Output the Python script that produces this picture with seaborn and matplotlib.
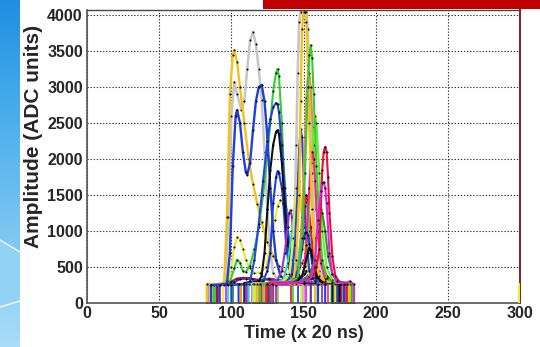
import numpy as np
import pandas as pd
import matplotlib
matplotlib.use("Agg")
import matplotlib.pyplot as plt
from matplotlib.patches import Rectangle
import seaborn as sns

# ---------------------------------------------------------------- waveforms
# time in samples (x 20 ns), amplitude in ADC units

gold_a_t = [83, 83, 90, 95, 97, 99, 101, 102, 104, 106, 109, 112, 115, 118, 121, 125, 129, 133, 138, 145, 152, 158, 158]
gold_a_amp = [0, 260, 262, 280, 1200, 2900, 3450, 3515, 3350, 3000, 2500, 2000, 1650, 1380, 1120, 850, 650, 520, 400, 320, 290, 280, 0]

gray_a_t = [85, 85, 92, 96, 98, 100, 102, 104, 107, 109, 111, 113, 115, 117, 119, 121, 123, 125, 127, 129, 133, 145, 150, 150]
gray_a_amp = [0, 255, 260, 300, 1200, 2600, 3070, 2900, 2680, 2800, 3250, 3650, 3764, 3600, 3250, 2820, 2100, 1300, 700, 420, 300, 280, 270, 0]

blue_a_t = [86, 86, 92, 97, 99, 101, 103, 104, 106, 108, 110, 111, 113, 115, 117, 119, 121, 123, 125, 127, 129, 131, 134, 138, 145, 160, 160]
blue_a_amp = [0, 250, 255, 270, 700, 1900, 2600, 2680, 2500, 2100, 1820, 1780, 1950, 2400, 2800, 3000, 3030, 2800, 2300, 1600, 1000, 600, 380, 300, 280, 270, 0]

yellow_a_t = [87, 87, 94, 98, 100, 102, 104, 106, 108, 110, 113, 116, 120, 124, 127, 130, 132, 134, 136, 138, 140, 143, 147, 152, 165, 165]
yellow_a_amp = [0, 255, 260, 300, 500, 780, 910, 880, 750, 600, 480, 420, 420, 500, 800, 1150, 1350, 1430, 1380, 1150, 850, 550, 350, 290, 270, 0]

green_a_t = [88, 88, 95, 99, 102, 104, 106, 108, 110, 113, 116, 119, 122, 125, 127, 129, 131, 132, 133, 135, 136, 138, 140, 143, 148, 160, 160]
green_a_amp = [0, 250, 255, 290, 480, 600, 560, 440, 430, 520, 750, 1050, 1500, 2050, 2500, 2950, 3200, 3250, 3150, 2500, 2000, 1300, 800, 450, 300, 270, 0]

blue_b_t = [100, 100, 108, 113, 116, 119, 122, 125, 127, 129, 131, 132, 133, 135, 137, 139, 141, 144, 148, 165, 165]
blue_b_amp = [0, 250, 260, 300, 600, 1100, 1700, 2250, 2550, 2720, 2780, 2760, 2650, 2200, 1600, 1050, 650, 400, 300, 270, 0]

black_b_t = [109, 109, 115, 119, 121, 123, 125, 127, 129, 131, 132, 133, 135, 137, 139, 141, 144, 148, 170, 170]
black_b_amp = [0, 280, 285, 300, 380, 700, 1300, 1850, 2200, 2380, 2400, 2350, 1950, 1350, 850, 520, 330, 290, 275, 0]

blue_c_t = [105, 105, 115, 122, 125, 127, 129, 131, 132, 133, 135, 136, 138, 140, 143, 150, 172, 172]
blue_c_amp = [0, 260, 265, 300, 450, 700, 1390, 1750, 1830, 1800, 1600, 1390, 800, 480, 320, 280, 270, 0]

purple_b_t = [110, 110, 125, 132, 135, 137, 139, 140, 141, 142, 143, 145, 147, 150, 175, 175]
purple_b_amp = [0, 270, 280, 320, 450, 700, 1050, 1250, 1290, 1200, 900, 550, 380, 300, 270, 0]

cyan_b_t = [112, 112, 130, 136, 139, 142, 144, 146, 148, 150, 152, 155, 160, 178, 178]
cyan_b_amp = [0, 260, 280, 320, 550, 1000, 1350, 1500, 1400, 1050, 650, 380, 290, 270, 0]

maroon_t = [90, 90, 97, 100, 104, 108, 112, 116, 120, 125, 130, 140, 150, 150]
maroon_amp = [0, 255, 260, 300, 340, 350, 345, 330, 320, 330, 310, 290, 280, 0]

violet_t = [92, 92, 98, 102, 106, 110, 114, 118, 122, 126, 132, 145, 155, 155]
violet_amp = [0, 250, 255, 290, 330, 340, 330, 310, 320, 340, 320, 290, 280, 0]

gray_c_t = [115, 115, 135, 140, 142, 144, 145, 146, 147, 148, 150, 152, 153, 154, 156, 158, 161, 165, 180, 180]
gray_c_amp = [0, 270, 280, 350, 600, 1300, 2200, 3200, 3900, 4040, 4040, 4040, 3800, 3000, 1800, 900, 450, 300, 270, 0]

yellow_c_t = [116, 116, 135, 140, 143, 145, 146, 147, 149, 151, 154, 158, 172, 172]
yellow_c_amp = [0, 260, 290, 400, 900, 1600, 1800, 1700, 1200, 700, 380, 290, 270, 0]

blue_d_t = [118, 118, 138, 142, 144, 146, 147, 148, 149, 150, 152, 154, 158, 174, 174]
blue_d_amp = [0, 265, 290, 400, 800, 1600, 2150, 2420, 2300, 1800, 900, 450, 300, 270, 0]

gold_c_t = [118, 118, 138, 143, 145, 147, 148, 149, 150, 151, 152, 153, 154, 156, 158, 161, 165, 182, 182]
gold_c_amp = [0, 270, 280, 330, 600, 1500, 2800, 3800, 4040, 4040, 3900, 3300, 2500, 1300, 650, 380, 300, 270, 0]

red_c_t = [121, 121, 143, 147, 149, 151, 152, 153, 155, 157, 160, 165, 176, 176]
red_c_amp = [0, 270, 300, 500, 900, 1350, 1500, 1450, 1050, 600, 350, 280, 270, 0]

orange_c_t = [122, 122, 142, 147, 149, 151, 152, 153, 154, 155, 157, 159, 162, 166, 178, 178]
orange_c_amp = [0, 265, 290, 500, 1200, 2300, 2850, 3150, 3190, 3000, 2200, 1300, 600, 320, 270, 0]

cyan_c_t = [125, 125, 142, 146, 148, 150, 151, 152, 154, 156, 159, 163, 177, 177]
cyan_c_amp = [0, 265, 300, 500, 900, 1350, 1450, 1400, 1000, 600, 380, 290, 270, 0]

lime_c_t = [123, 123, 145, 150, 153, 155, 157, 158, 159, 161, 163, 166, 170, 181, 181]
lime_c_amp = [0, 265, 290, 400, 900, 1700, 2450, 2600, 2500, 1800, 1000, 500, 320, 270, 0]

green_c_t = [120, 120, 140, 146, 149, 151, 153, 154, 155, 156, 157, 159, 161, 163, 166, 170, 184, 184]
green_c_amp = [0, 270, 290, 350, 900, 1800, 3000, 3450, 3580, 3400, 2900, 1900, 1100, 600, 350, 290, 270, 0]

pink_c_t = [124, 124, 145, 150, 152, 154, 155, 156, 157, 158, 160, 162, 165, 170, 179, 179]
pink_c_amp = [0, 270, 290, 400, 800, 1600, 1950, 2100, 2000, 1700, 1000, 550, 330, 280, 270, 0]

blue_e_t = [126, 126, 140, 144, 147, 149, 150, 151, 152, 153, 154, 156, 159, 163, 178, 178]
blue_e_amp = [0, 265, 300, 350, 500, 750, 900, 970, 990, 950, 820, 550, 350, 290, 270, 0]

black_c_t = [127, 127, 145, 149, 151, 153, 154, 155, 157, 159, 162, 175, 175]
black_c_amp = [0, 260, 290, 380, 520, 700, 770, 740, 550, 380, 300, 270, 0]

darkgreen_c_t = [127, 127, 148, 154, 157, 159, 161, 162, 163, 165, 167, 170, 174, 183, 183]
darkgreen_c_amp = [0, 265, 290, 350, 550, 900, 1200, 1300, 1250, 1000, 650, 400, 300, 270, 0]

red_d_t = [125, 125, 150, 156, 159, 161, 163, 164, 165, 166, 167, 168, 170, 172, 175, 180, 180]
red_d_amp = [0, 270, 290, 350, 500, 750, 1850, 2100, 2170, 2100, 1750, 1250, 650, 380, 290, 270, 0]

magenta_d_t = [128, 128, 150, 155, 158, 160, 162, 163, 164, 165, 166, 168, 170, 173, 178, 182, 185, 185]
magenta_d_amp = [0, 260, 290, 330, 600, 1150, 1550, 1670, 1680, 1600, 1390, 700, 400, 300, 270, 300, 260, 0]

rose_s_t = [119, 119, 140, 146, 149, 150, 151, 153, 156, 160, 175, 175]
rose_s_amp = [0, 260, 290, 400, 560, 600, 580, 480, 350, 290, 270, 0]

navy_s_t = [121, 121, 142, 148, 151, 152, 153, 155, 158, 162, 173, 173]
navy_s_amp = [0, 255, 280, 340, 420, 450, 440, 380, 310, 280, 265, 0]

teal_s_t = [124, 124, 146, 152, 155, 157, 158, 159, 161, 164, 168, 177, 177]
teal_s_amp = [0, 260, 285, 350, 450, 530, 550, 530, 450, 340, 290, 270, 0]

brown_s_t = [129, 129, 148, 154, 157, 159, 160, 161, 163, 166, 170, 180, 180]
brown_s_amp = [0, 265, 290, 380, 550, 670, 700, 680, 550, 380, 300, 270, 0]

lilac_s_t = [131, 131, 146, 151, 154, 155, 156, 158, 162, 176, 176]
lilac_s_amp = [0, 255, 285, 340, 400, 420, 410, 360, 290, 265, 0]

# flat (baseline only) records: first and last sample, pedestal level
flat_start = [84, 89, 91, 94, 96, 98, 101, 107, 111, 114, 117, 119, 129, 132]
flat_end = [141, 143, 146, 148, 152, 155, 158, 160, 163, 167, 169, 171, 174, 177]
flat_level = [262, 255, 258, 250, 265, 252, 260, 257, 263, 255, 268, 260, 258, 262]
flat_color = ["#ee2222", "#33dd33", "#2244ee", "#eeee22", "#ee22ee", "#22dddd",
              "#229944", "#ff8800", "#8833ff", "#ff3388", "#66ff66", "#3399ff",
              "#cc2222", "#bbbb22"]

# lone sample at the end of the record window
tail_t = [299.3, 299.3]
tail_amp = [0, 270]

# ---------------------------------------------------------------- styling
sns.set_style("white")
plt.rcParams["font.family"] = ["Liberation Sans", "DejaVu Sans"]
plt.rcParams["font.weight"] = "bold"

fig = plt.figure(figsize=(5.40, 3.47), dpi=100)
fig.patch.set_facecolor("white")

# slide backdrop on the left edge
strip = fig.add_axes([0, 0, 20 / 540, 1])
grad = np.linspace(0, 1, 256).reshape(-1, 1)
cmap = matplotlib.colors.LinearSegmentedColormap.from_list(
    "slide", ["#1f8fe0", "#4aaeec", "#7cc6f2", "#a9dcf8"])
strip.imshow(grad, aspect="auto", cmap=cmap, extent=[0, 1, 0, 1], origin="upper")
strip.fill([0, 1, 1, 0], [1 - 240 / 347, 1 - 252 / 347, 1 - 301 / 347, 1 - 307 / 347],
           color="#92d2f5", lw=0)
strip.plot([0, 1], [1 - 240 / 347, 1 - 252 / 347], color="white", lw=0.9)
strip.plot([0, 1], [1 - 307 / 347, 1 - 301 / 347], color="white", lw=0.9)
strip.set_xlim(0, 1)
strip.set_ylim(0, 1)
strip.axis("off")

# red banner at the top
fig.patches.append(Rectangle((263 / 540, 1 - 9 / 347), 1 - 263 / 540, 9 / 347,
                             transform=fig.transFigure, facecolor="#c00000",
                             edgecolor="none", zorder=0))

ax = fig.add_axes([87 / 540, 1 - 303 / 347, (520 - 87) / 540, (303 - 10) / 347])
ax.set_facecolor("white")


def draw(t, amp, color, lw=1.5, dots=True, z=2):
    frame = pd.DataFrame({"t": t, "amp": amp})
    kw = dict(marker="o", markersize=1.5, markerfacecolor="black",
              markeredgewidth=0) if dots else {}
    sns.lineplot(data=frame, x="t", y="amp", ax=ax, color=color, lw=lw,
                 sort=False, estimator=None, legend=False, zorder=z, **kw)


for s, e, lvl, c in zip(flat_start, flat_end, flat_level, flat_color):
    draw([s, s, e, e], [0, lvl, lvl, 0], c, lw=1.3, dots=False)

draw(maroon_t, maroon_amp, "#a01050")
draw(violet_t, violet_amp, "#6a2aa0")
draw(gray_a_t, gray_a_amp, "#c6c6c6", lw=1.8)
draw(gold_a_t, gold_a_amp, "#f2c21a", lw=1.7)
draw(yellow_a_t, yellow_a_amp, "#eaea2a")
draw(green_a_t, green_a_amp, "#33cc33")
draw(blue_a_t, blue_a_amp, "#1f3fd8", lw=1.7)
draw(blue_b_t, blue_b_amp, "#2244e0")
draw(blue_c_t, blue_c_amp, "#1f3fd8")
draw(black_b_t, black_b_amp, "#111111")
draw(purple_b_t, purple_b_amp, "#9933cc")
draw(cyan_b_t, cyan_b_amp, "#22d8d8")
draw(rose_s_t, rose_s_amp, "#ff66aa")
draw(navy_s_t, navy_s_amp, "#3322aa")
draw(teal_s_t, teal_s_amp, "#33aaaa")
draw(brown_s_t, brown_s_amp, "#995522")
draw(lilac_s_t, lilac_s_amp, "#7755ff")
draw(gray_c_t, gray_c_amp, "#c6c6c6", lw=1.9)
draw(yellow_c_t, yellow_c_amp, "#eaea2a")
draw(blue_d_t, blue_d_amp, "#2244e0")
draw(cyan_c_t, cyan_c_amp, "#22d8d8")
draw(red_c_t, red_c_amp, "#ee1133")
draw(orange_c_t, orange_c_amp, "#ee8844")
draw(lime_c_t, lime_c_amp, "#66ee33")
draw(pink_c_t, pink_c_amp, "#ff2288")
draw(blue_e_t, blue_e_amp, "#2a3ad0")
draw(black_c_t, black_c_amp, "#111111")
draw(darkgreen_c_t, darkgreen_c_amp, "#2a9a2a")
draw(gold_c_t, gold_c_amp, "#f2c21a", lw=1.7)
draw(green_c_t, green_c_amp, "#33cc33")
draw(red_d_t, red_d_amp, "#e8103c")
draw(magenta_d_t, magenta_d_amp, "#e020e0")
draw(tail_t, tail_amp, "#eeee22", lw=2.0, dots=False, z=5)

# axes
ax.set_xlim(0, 300)
ax.set_ylim(0, 4070)
ax.set_xticks(np.arange(0, 301, 50))
ax.set_yticks(np.arange(0, 4001, 500))
ax.set_xticks(np.arange(0, 301, 10), minor=True)
ax.set_yticks(np.arange(0, 4001, 100), minor=True)
ax.tick_params(axis="both", which="major", direction="in", length=7, width=1.0,
               color="#555555", labelsize=11.5, top=False, right=False)
ax.tick_params(axis="both", which="minor", direction="in", length=3.5, width=0.9,
               color="#555555", top=False, right=False)
ax.tick_params(axis="x", pad=2)
ax.tick_params(axis="y", pad=3)
for lab in ax.get_xticklabels() + ax.get_yticklabels():
    lab.set_fontweight("bold")

ax.grid(True, which="major", color="#333333", linestyle=(0, (1.2, 1.6)), lw=0.8)
ax.set_axisbelow(True)

for side in ("left", "bottom"):
    ax.spines[side].set_color("#555555")
    ax.spines[side].set_linewidth(1.2)
ax.spines["top"].set_color("#444444")
ax.spines["top"].set_linewidth(1.0)
ax.spines["right"].set_color("#7a2a30")
ax.spines["right"].set_linewidth(1.5)

ax.set_xlabel("Time (x 20 ns)", fontsize=13, fontweight="bold", labelpad=3)
ax.set_ylabel("Amplitude (ADC units)", fontsize=15, fontweight="bold")
ax.yaxis.set_label_coords(-0.1016, 0.567)

fig.savefig("out.png", dpi=100, facecolor="white")
